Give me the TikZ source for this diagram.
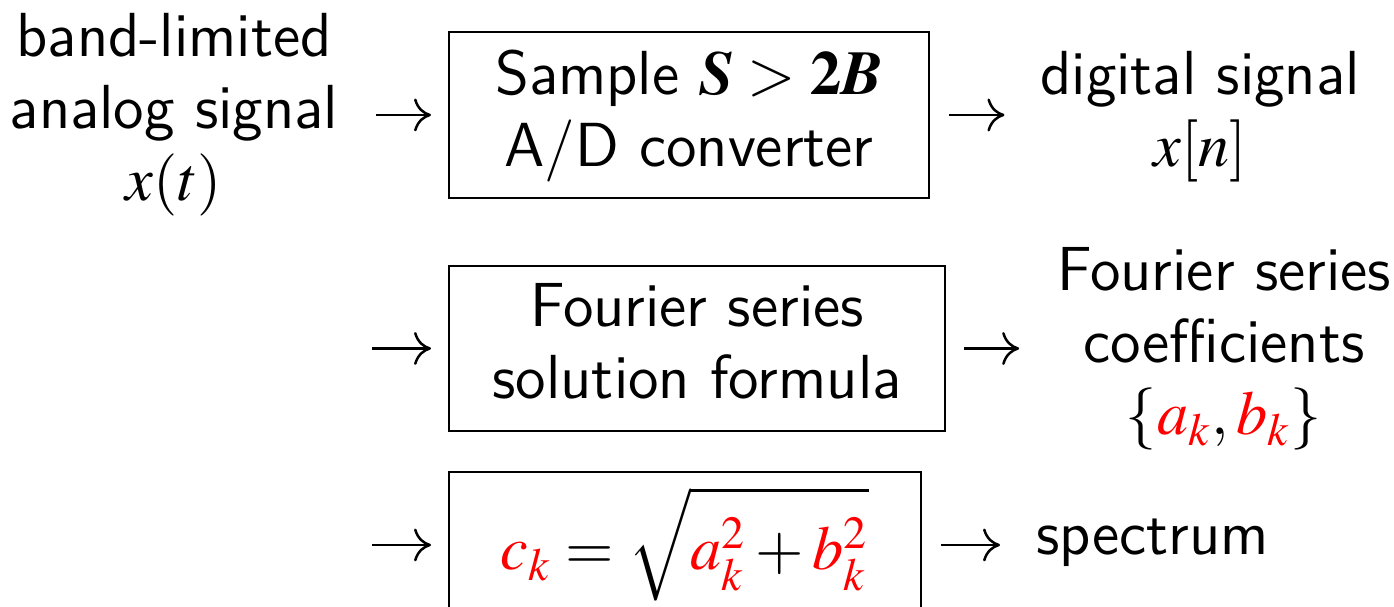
\documentclass[tikz,border=0pt]{standalone}
\usepackage{mathptmx}
\usepackage{xcolor}
\usetikzlibrary{arrows.meta}
\newcommand{\bfit}[1]{\mbox{\usefont{OT1}{ptm}{b}{it}#1}}
\newcommand{\bfup}[1]{\mbox{\usefont{OT1}{ptm}{b}{n}#1}}
\tikzset{
  txt/.style={inner sep=0pt, font=\fontsize{12.45}{14.4}\usefont{TU}{lmss}{m}{n}},
  boxst/.style={txt, draw=black, line width=0.4pt},
  arr/.style={line width=0.5pt, -{Computer Modern Rightarrow[length=3.4pt,width=6.6pt]}}
}
\begin{document}
\begin{tikzpicture}[x=0.2pt, y=-0.2pt]
\clip (0,0) rectangle (1394,607);
% left input
\node[txt, anchor=base] (input) at (174,57)
  {\begin{tabular}[t]{@{}c@{}}band-limited\\analog signal\\$x(t)$\end{tabular}};
% boxes
\node[boxst, anchor=base, minimum width=96pt, text height=12.6pt, text depth=20.6pt] (box1) at (689,95)
  {\begin{tabular}[t]{@{}c@{}}Sample $\bfit{S}>\bfup{2}\bfit{B}$\\A/D converter\end{tabular}};
\node[boxst, anchor=base, minimum width=99.2pt, text height=12.2pt, text depth=20.8pt] (box2) at (697,327)
  {\begin{tabular}[t]{@{}c@{}}Fourier series\\solution formula\end{tabular}};
\node[boxst, anchor=base, minimum width=94.4pt, text height=19.6pt, text depth=9.6pt] (box3) at (685,570)
  {$\displaystyle\textcolor{red}{c_k}=\sqrt{\rule[-4.5pt]{0pt}{16.5pt}\textcolor{red}{a_k^2}+\textcolor{red}{b_k^2}}$};
% outputs
\node[txt, anchor=base] (out) at (1200,95)
  {\begin{tabular}[t]{@{}c@{}}digital signal\\$x[n]$\end{tabular}};
\node[txt, anchor=base] (coef) at (1224,291)
  {\begin{tabular}[t]{@{}c@{}}Fourier series\\coefficients\\$\{\textcolor{red}{a_k},\textcolor{red}{b_k}\}$\end{tabular}};
\node[txt, anchor=base west] (spec) at (1035,555) {spectrum};
% free starts
\coordinate (s2) at (372,348);
\coordinate (s3) at (372,545);
% connectors
\draw[arr, shorten <=7.4pt, shorten >=3.4pt] (input.east |- box1.west) -- (box1.west);
\draw[arr, shorten <=3.8pt, shorten >=7pt] (box1.east) -- (out.west |- box1.east);
\draw[arr, shorten >=3.4pt] (s2 |- box2.west) -- (box2.west);
\draw[arr, shorten <=3.6pt, shorten >=7.4pt] (box2.east) -- (coef.west |- box2.east);
\draw[arr, shorten >=3.4pt] (s3 |- box3.west) -- (box3.west);
\draw[arr, shorten <=3.8pt, shorten >=7pt] (box3.east) -- (spec.west |- box3.east);
\end{tikzpicture}
\end{document}
